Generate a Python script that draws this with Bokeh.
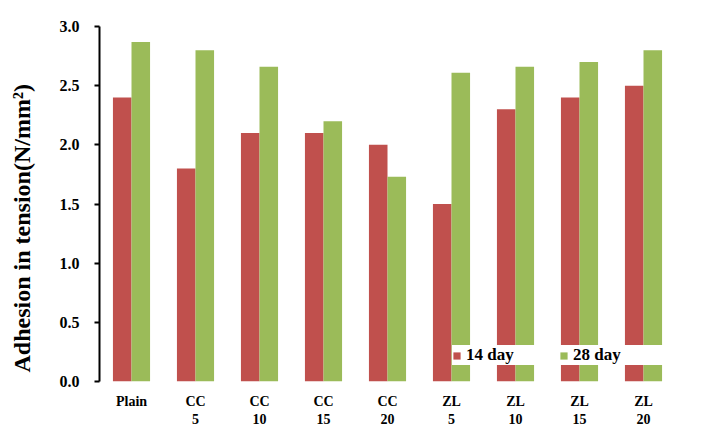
from bokeh.plotting import figure
from bokeh.models import (ColumnDataSource, Range1d, SingleIntervalTicker, NumeralTickFormatter,
                          Legend, LegendItem, Title, LinearAxis, FixedTicker)
from bokeh.transform import dodge
from bokeh.embed import file_html
from bokeh.resources import INLINE

categories = ["Plain", "CC\n5", "CC\n10", "CC\n15", "CC\n20", "ZL\n5", "ZL\n10", "ZL\n15", "ZL\n20"]
day14 = [2.40, 1.80, 2.10, 2.10, 2.00, 1.50, 2.30, 2.40, 2.50]
day28 = [2.87, 2.80, 2.66, 2.20, 1.73, 2.61, 2.66, 2.70, 2.80]
series_names = ["14 day", "28 day"]
colors = ["#C0504D", "#9BBB59"]
y_title = "Adhesion in tension(N/mm\u00b2)"

src = ColumnDataSource(dict(cat=categories, d14=day14, d28=day28))

p = figure(x_range=categories, width=699, height=429, output_backend="svg",
           toolbar_location=None, min_border_left=99, min_border_right=24,
           min_border_top=26, min_border_bottom=48)
p.x_range.range_padding = 0
p.y_range = Range1d(0, 3.0)

r1 = p.vbar(x=dodge("cat", -0.145, range=p.x_range), top="d14", width=0.29,
            source=src, fill_color=colors[0], line_color=None)
r2 = p.vbar(x=dodge("cat", 0.145, range=p.x_range), top="d28", width=0.29,
            source=src, fill_color=colors[1], line_color=None)

font = "Liberation Serif"
p.xgrid.visible = False
p.ygrid.visible = False
p.outline_line_color = None

xa = p.xaxis[0]
xa.axis_line_color = None
xa.major_tick_line_color = None
xa.major_tick_out = 0
xa.major_tick_in = 0
xa.minor_tick_line_color = None
xa.major_label_text_font = font
xa.major_label_text_font_style = "bold"
xa.major_label_text_font_size = "14px"
xa.major_label_text_color = "black"
xa.major_label_standoff = 12

ya = p.yaxis[0]
ya.ticker = SingleIntervalTicker(interval=0.5)
ya.formatter = NumeralTickFormatter(format="0.0")
ya.axis_line_width = 2
ya.axis_line_color = "black"
ya.major_tick_line_width = 2
ya.major_tick_out = 5
ya.major_tick_in = 0
ya.minor_tick_line_color = None
ya.major_label_text_font = font
ya.major_label_text_font_style = "bold"
ya.major_label_text_font_size = "16px"
ya.major_label_text_color = "black"
ya.major_label_standoff = 15

# blank spacer between the tick labels and the rotated title (one invisible tick, no label)
spacer = LinearAxis(ticker=FixedTicker(ticks=[1.5], minor_ticks=[]), axis_line_color=None,
                    major_tick_line_color=None, minor_tick_line_color=None,
                    major_tick_out=17, major_tick_in=0, minor_tick_out=0, minor_tick_in=0,
                    major_label_standoff=0, major_label_overrides={1.5: ""},
                    major_label_text_color=None, major_label_text_font_size="1px")
p.add_layout(spacer, "left")

ytitle = Title(text=y_title, align="left", offset=9, standoff=9,
               text_font=font, text_font_style="bold", text_font_size="24px",
               text_color="black")
p.add_layout(ytitle, "left")

legend = Legend(items=[LegendItem(label=series_names[0], renderers=[r1]),
                       LegendItem(label=series_names[1], renderers=[r2])],
                orientation="horizontal", location=(353, 16),
                padding=3, spacing=0, margin=0,
                glyph_width=9, glyph_height=9, label_standoff=5,
                label_width=93, label_height=17,
                label_text_font=font, label_text_font_style="bold",
                label_text_font_size="17px", label_text_color="black",
                background_fill_color="white", background_fill_alpha=1.0,
                border_line_color=None)
p.add_layout(legend, "center")

open("out.html", "w").write(file_html(p, INLINE))
